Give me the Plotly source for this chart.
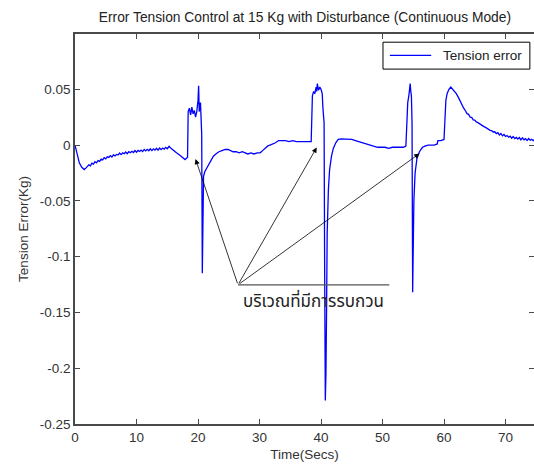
import plotly.graph_objects as go

# Tension error record (time in seconds, error in kg)
time_s = [0.0, 0.3, 0.7, 1.1, 1.5, 1.8,
          2.00, 2.25, 2.50, 2.75, 3.00, 3.25, 3.50, 3.75, 4.00, 4.25, 4.50, 4.75,
          5.00, 5.25, 5.50, 5.75, 6.00, 6.25, 6.50, 6.75, 7.00, 7.25, 7.50, 7.75,
          8.00, 8.25, 8.50, 8.75, 9.00, 9.25, 9.50, 9.75, 10.00, 10.25, 10.50, 10.75,
          11.00, 11.25, 11.50, 11.75, 12.00, 12.25, 12.50, 12.75, 13.00, 13.25, 13.50,
          13.75, 14.00, 14.25, 14.50, 14.75, 15.00, 15.3, 15.6, 16.0, 16.5, 17.0,
          17.5, 17.9, 18.3, 18.4, 18.6, 18.8, 19.0, 19.2, 19.4, 19.6, 19.8, 20.0, 20.1,
          20.2, 20.4, 20.6, 20.7, 20.8, 20.9, 21.1, 21.4, 21.7, 22.1, 22.5, 22.9, 23.4,
          23.9, 24.4, 24.9, 25.3, 25.7, 26.2, 26.7, 27.2, 27.6, 28.1, 28.6, 29.1, 29.6,
          30.1, 30.5, 30.9, 31.3, 31.7, 32.1, 32.6, 33.1, 33.6, 34.2, 34.8, 35.4, 36.0,
          36.6, 37.2, 37.8, 38.4, 38.6, 38.8, 39.0, 39.2, 39.3, 39.4, 39.6, 39.8, 40.0,
          40.2, 40.3, 40.5, 40.6, 40.7, 40.8, 40.9, 41.0, 41.2, 41.4, 41.7, 42.0, 42.4,
          42.8, 43.3, 43.8, 44.4, 45.0, 45.6, 46.2, 46.8, 47.4, 48.0, 48.6, 49.2, 49.8,
          50.4, 51.0, 51.6, 52.2, 52.8, 53.4, 53.8, 54.0, 54.1, 54.3, 54.5, 54.6, 54.7,
          54.8, 54.9, 55.0, 55.1, 55.3, 55.6, 56.0, 56.5, 56.9, 57.4, 57.9, 58.4, 58.9,
          59.0, 59.5, 60.0, 60.1, 60.3, 60.5, 60.8, 61.1, 61.4, 61.7, 62.0, 62.4, 62.8,
          63.2, 63.50, 63.75, 64.00, 64.25, 64.50, 64.75, 65.00, 65.25, 65.50, 65.75,
          66.00, 66.25, 66.50, 66.75, 67.00, 67.25, 67.50, 67.75, 68.00, 68.25, 68.50,
          68.75, 69.00, 69.25, 69.50, 69.75, 70.00, 70.25, 70.50, 70.75, 71.00, 71.25,
          71.50, 71.75, 72.00, 72.25, 72.50, 72.75, 73.00, 73.25, 73.50, 73.75, 74.00,
          74.25, 74.50, 74.75, 75.00]

tension_error = [0.000, -0.008, -0.016, -0.020, -0.022, -0.0205,
                 -0.0195, -0.0178, -0.0186, -0.0163, -0.0171, -0.0149, -0.0159, -0.0140,
                 -0.0146, -0.0126, -0.0134, -0.0113, -0.0124, -0.0106, -0.0111, -0.0095,
                 -0.0108, -0.0089, -0.0097, -0.0084, -0.0090, -0.0072, -0.0086, -0.0070,
                 -0.0078, -0.0062, -0.0077, -0.0059, -0.0069, -0.0056, -0.0067, -0.0049,
                 -0.0064, -0.0048, -0.0058, -0.0045, -0.0059, -0.0040, -0.0053, -0.0039,
                 -0.0051, -0.0034, -0.0050, -0.0034, -0.0046, -0.0029, -0.0046, -0.0027,
                 -0.0041, -0.0027, -0.0037, -0.0021, -0.0033, -0.0012, -0.0030, -0.005,
                 -0.007, -0.009, -0.011, -0.013, -0.011, 0.030, 0.033, 0.027, 0.034, 0.028,
                 0.031, 0.025, 0.030, 0.040, 0.053, 0.030, 0.038, 0.010, -0.115, -0.060,
                 -0.028, -0.024, -0.021, -0.018, -0.013, -0.010, -0.008, -0.006, -0.005,
                 -0.004, -0.004, -0.005, -0.006, -0.006, -0.007, -0.006, -0.007, -0.008,
                 -0.007, -0.008, -0.007, -0.007, -0.005, -0.003, -0.001, 0.000, 0.001,
                 0.002, 0.004, 0.004, 0.004, 0.003, 0.004, 0.003, 0.003, 0.003, 0.003,
                 0.003, 0.044, 0.048, 0.046, 0.052, 0.048, 0.055, 0.049, 0.052, 0.050,
                 0.046, 0.034, 0.020, -0.120, -0.229, -0.205, -0.150, -0.080, -0.040,
                 -0.022, -0.010, -0.003, 0.002, 0.005, 0.0055, 0.0055, 0.005, 0.005, 0.004,
                 0.003, 0.002, 0.001, 0.000, -0.001, -0.002, -0.002, -0.002, -0.003,
                 -0.002, -0.002, -0.002, -0.002, -0.001, 0.020, 0.038, 0.045, 0.055, 0.048,
                 0.044, 0.020, -0.132, -0.090, -0.050, -0.025, -0.012, -0.006, -0.002,
                 -0.001, 0.000, 0.000, 0.000, 0.001, 0.004, 0.004, 0.005, 0.017, 0.040,
                 0.046, 0.050, 0.052, 0.050, 0.048, 0.046, 0.042, 0.037, 0.033,
                 0.0305, 0.0281, 0.0275, 0.0249, 0.0248, 0.0226, 0.0224, 0.0207, 0.0201,
                 0.0190, 0.0181, 0.0172, 0.0165, 0.0158, 0.0148, 0.0141, 0.0132, 0.0129,
                 0.0117, 0.0119, 0.0102, 0.0111, 0.0091, 0.0104, 0.0082, 0.0094, 0.0077,
                 0.0085, 0.0070, 0.0079, 0.0061, 0.0076, 0.0058, 0.0068, 0.0054, 0.0067,
                 0.0046, 0.0064, 0.0047, 0.0057, 0.0040, 0.0058, 0.0043, 0.0051, 0.0039,
                 0.0053, 0.0043, 0.0056, 0.0048, 0.0061, 0.0057, 0.0068, 0.0066]

x_ticks = [0, 10, 20, 30, 40, 50, 60, 70]
y_ticks = [-0.25, -0.2, -0.15, -0.1, -0.05, 0, 0.05]
y_tick_labels = ['-0.25', '-0.2', '-0.15', '-0.1', '-0.05', '0', '0.05']

# disturbance callout: arrows from one point to the three disturbances
callout_origin = (26.5, -0.1253)
callout_targets = [(19.6, -0.0126), (39.3, -0.0022), (56.0, -0.0076)]
callout_line_end = 51.1
callout_text = 'บริเวณที่มีการรบกวน'

LINE_BLUE = '#0000FF'
AXIS_GREY = '#4a4a4a'
FONT = 'Liberation Sans, Arial, sans-serif'


def axisDict():
    return dict(linecolor=AXIS_GREY,
                linewidth=1.5,
                mirror='ticks',
                ticks='inside',
                ticklen=5,
                tickwidth=1,
                tickcolor=AXIS_GREY,
                showgrid=False,
                zeroline=False,
                showline=True,
                tickfont=dict(size=13.5, color='#333'))


fig = go.Figure()
fig.add_trace(go.Scatter(x=time_s, y=tension_error, mode='lines',
                         line=dict(color=LINE_BLUE, width=1.3),
                         name='Tension error', showlegend=False))

ox, oy = callout_origin
for tx, ty in callout_targets:
    fig.add_annotation(x=tx, y=ty, ax=ox, ay=oy, xref='x', yref='y',
                       axref='x', ayref='y', text='', showarrow=True,
                       arrowhead=2, arrowsize=1.3, arrowwidth=0.8,
                       arrowcolor='black')

fig.add_shape(type='line', x0=ox, x1=callout_line_end, y0=oy, y1=oy,
              xref='x', yref='y', line=dict(color='#555', width=1.2))

fig.add_annotation(x=(ox + callout_line_end) / 2, y=oy, xref='x', yref='y',
                   yanchor='top', yshift=-2, text=callout_text, showarrow=False,
                   font=dict(size=17, color='#222',
                             family='Tahoma, Noto Sans Thai, Noto Sans, sans-serif'))

# MATLAB style legend box (wider line sample than plotly's own legend)
fig.add_shape(type='rect', xref='paper', yref='paper', x0=0.671, x1=0.991,
              y0=0.910, y1=0.979, line=dict(color='black', width=1),
              fillcolor='white', layer='above')
fig.add_shape(type='line', xref='paper', yref='paper', x0=0.686, x1=0.776,
              y0=0.945, y1=0.945, line=dict(color=LINE_BLUE, width=1.3),
              layer='above')
fig.add_annotation(xref='paper', yref='paper', x=0.797, y=0.945,
                   xanchor='left', yanchor='middle', text='Tension error',
                   showarrow=False, font=dict(size=13.5, color='#222'))

fig.update_xaxes(axisDict(), range=[0, 74.63], tickvals=x_ticks,
                 title=dict(text='Time(Secs)', standoff=6,
                            font=dict(size=13.5, color='#333')))
fig.update_yaxes(axisDict(), range=[-0.25, 0.0995], tickvals=y_ticks,
                 ticktext=y_tick_labels,
                 title=dict(text='Tension Error(Kg)', standoff=8,
                            font=dict(size=13.5, color='#333')))

fig.update_layout(width=534, height=465,
                  margin=dict(l=75, r=0, t=34, b=41, autoexpand=False),
                  plot_bgcolor='white', paper_bgcolor='white',
                  font=dict(family=FONT, color='#333'),
                  title=dict(text='Error Tension Control at 15 Kg with Disturbance (Continuous Mode)',
                             x=0.571, xanchor='center', y=0.963, yanchor='middle',
                             font=dict(size=13.8, color='#222')),
                  showlegend=False)

# page body has a default 8px margin; drop it so the figure sits at the window corner
fig.write_html('out.html', config={'displayModeBar': False},
               post_script="document.body.style.margin='0';")
